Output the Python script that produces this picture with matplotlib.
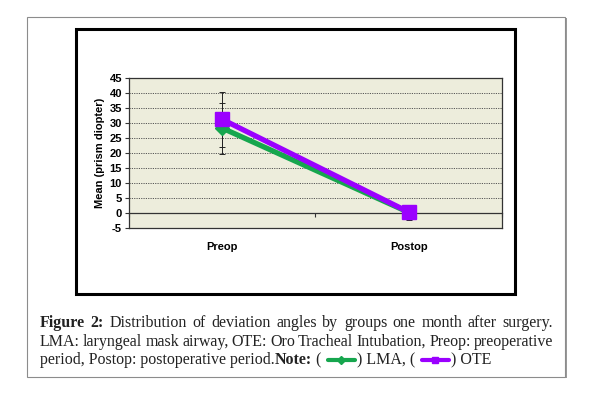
import matplotlib
matplotlib.use("Agg")
import matplotlib.pyplot as plt
from matplotlib.lines import Line2D
from matplotlib.patches import Rectangle
from matplotlib.transforms import IdentityTransform

# data
categories = ["Preop", "Postop"]
lma_mean = [28.3, 0.2]
lma_sd = [8.5, 2.2]
ote_mean = [31.2, 0.3]
ote_sd = [9.2, 2.5]
y_ticks = [-5, 0, 5, 10, 15, 20, 25, 30, 35, 40, 45]

GREEN = "#16A64E"
PURPLE = "#9B00FF"

W, H = 594, 393
fig = plt.figure(figsize=(W / 100, H / 100), dpi=100)
fig.patch.set_facecolor("white")

# outer grey frame with a little shadow
fig.add_artist(Rectangle((29 / W, 15 / H), 538 / W, 360 / H, transform=fig.transFigure,
                         facecolor="#9a9a9a", edgecolor="none", zorder=0))
fig.add_artist(Rectangle((27 / W, 16 / H), 538 / W, 360 / H, transform=fig.transFigure,
                         facecolor="white", edgecolor="#8c8c8c", lw=0.8, zorder=0.1))
# black chart frame
fig.add_artist(Rectangle((76 / W, 99 / H), 439 / W, 265 / H, transform=fig.transFigure,
                         facecolor="white", edgecolor="black", lw=2.2, zorder=0.2))

ax = fig.add_axes([129 / W, 165 / H, 373 / W, 150 / H])
ax.set_zorder(2)
ax.set_facecolor("#EDEDDC")
x = [0.5, 1.5]

ax.set_xlim(0, 2)
ax.set_ylim(-5, 45)
ax.set_yticks(y_ticks)
ax.set_yticklabels([str(v) for v in y_ticks], fontsize=8, fontweight="bold",
                   family="Liberation Sans")
for v in y_ticks[2:-1]:
    ax.axhline(v, color="#555555", lw=0.7, ls=(0, (1.2, 1.2)), zorder=1)
ax.tick_params(axis="y", direction="out", length=3, width=0.8, color="#333333", pad=2)

ax.set_xticks([])
ax.set_xticks(x, minor=True)
ax.set_xticklabels(categories, minor=True, fontsize=8, fontweight="bold",
                   family="Liberation Sans")
ax.tick_params(axis="x", which="minor", length=0, pad=10)
for s in ax.spines.values():
    s.set_color("#333333")
    s.set_linewidth(0.9)

# category axis crossing at zero
ax2 = ax.twiny()
ax2.set_zorder(3)
ax2.patch.set_visible(False)
ax2.set_xlim(0, 2)
ax2.xaxis.set_ticks_position("bottom")
ax2.spines["bottom"].set_position(("data", 0))
for k in ["top", "left", "right"]:
    ax2.spines[k].set_visible(False)
ax2.spines["bottom"].set_color("#333333")
ax2.spines["bottom"].set_linewidth(0.9)
ax2.set_xticks([0, 1, 2])
ax2.set_xticklabels([])
ax2.tick_params(axis="x", direction="out", length=3, width=0.8, color="#333333")

ax2.errorbar(x, ote_mean, yerr=ote_sd, fmt="none", ecolor="#222222", elinewidth=0.7,
             capsize=2.5, capthick=0.7, zorder=2)
ax2.errorbar(x, lma_mean, yerr=lma_sd, fmt="none", ecolor="#222222", elinewidth=0.7,
             capsize=2.5, capthick=0.7, zorder=2)
ax2.plot(x, lma_mean, color=GREEN, lw=3.8, marker="D", ms=7.5, zorder=4,
         solid_capstyle="round")
ax2.plot(x, ote_mean, color=PURPLE, lw=3.8, marker="s", ms=10, zorder=5,
         solid_capstyle="round")
ax.set_ylabel("Mean (prism diopter)", fontsize=8, fontweight="bold",
              family="Liberation Sans", labelpad=3)

# caption, laid out word by word in pixel coordinates
renderer = fig.canvas.get_renderer()
CAP = dict(family="Liberation Serif", fontsize=11.5, color="#222222")


def word_width(s, weight):
    t = fig.text(0, 0, s, fontweight=weight, **CAP)
    w = t.get_window_extent(renderer).width
    t.remove()
    return w


def justified(words, x0, x1, y):
    widths = [word_width(s, wt) for s, wt in words]
    gap = (x1 - x0 - sum(widths)) / (len(words) - 1)
    xx = x0
    for (s, wt), w in zip(words, widths):
        fig.text(xx, y, s, fontweight=wt, transform=IdentityTransform(),
                 ha="left", va="baseline", **CAP)
        xx += w + gap


line1 = [("Figure", "bold"), ("2:", "bold")] + [(w, "normal") for w in
         "Distribution of deviation angles by groups one month after surgery.".split()]
line2 = [(w, "normal") for w in
         "LMA: laryngeal mask airway, OTE: Oro Tracheal Intubation, Preop: preoperative".split()]
justified(line1, 40, 553, H - 327)
justified(line2, 40, 553, H - 346)

y3 = H - 364
xx = 40
for item in [("period, Postop: postoperative period.", "normal"), ("Note:", "bold"),
             (" ( ", "normal"), GREEN, (") LMA, ( ", "normal"), PURPLE, (") OTE", "normal")]:
    if isinstance(item, tuple):
        s, wt = item
        t = fig.text(xx, y3, s, fontweight=wt, transform=IdentityTransform(),
                     ha="left", va="baseline", **CAP)
        xx += t.get_window_extent(renderer).width
    else:
        mk = "D" if item == GREEN else "s"
        fig.add_artist(Line2D([xx + 3, xx + 30], [y3 + 4, y3 + 4], color=item, lw=3,
                              transform=IdentityTransform(), solid_capstyle="round"))
        fig.add_artist(Line2D([xx + 16], [y3 + 4], color=item, marker=mk, ms=4,
                              transform=IdentityTransform()))
        xx += 32

fig.savefig("out.png", dpi=100)
